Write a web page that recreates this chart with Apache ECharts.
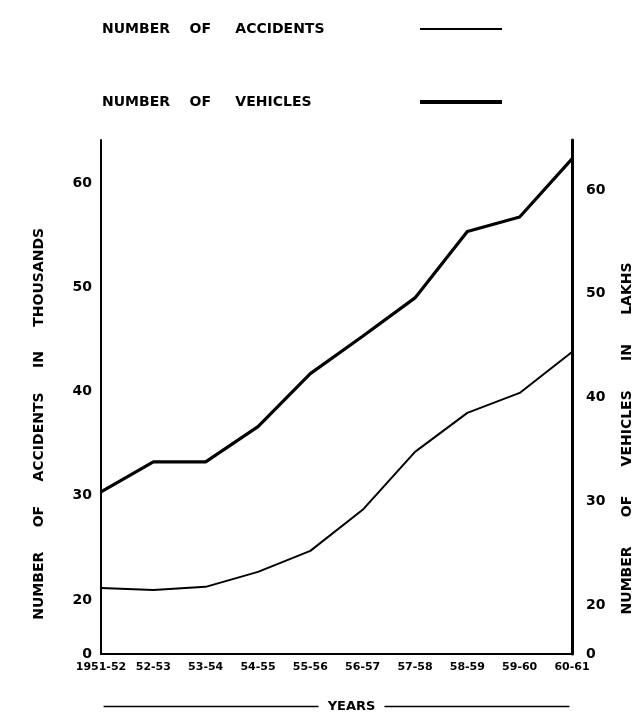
<!DOCTYPE html>
<html>
<head>
<meta charset="utf-8">
<script src="https://cdn.jsdelivr.net/npm/echarts@6/dist/echarts.min.js"></script>
<style>
html,body{margin:0;padding:0;background:#fff;}
#chart{width:642px;height:721px;}
</style>
</head>
<body>
<div id="chart"></div>
<script>
var years = ['1951-52','52-53','53-54','54-55','55-56','56-57','57-58','58-59','59-60','60-61'];
var accidents = [21.15, 20.96, 21.25, 22.69, 24.71, 28.65, 34.22, 37.96, 39.88, 43.82]; // thousands (left axis)
var vehicles = [30.9, 33.8, 33.8, 37.2, 42.3, 45.9, 49.6, 56.0, 57.4, 63.0];            // lakhs (right axis)
var tickValues = [20, 30, 40, 50, 60];

var FONT = 'DejaVu Sans';
var leftMin = 14.8, leftMax = 64.18;
var rightMin = 15.28, rightMax = 64.82;

var chart = echarts.init(document.getElementById('chart'), null, {renderer: 'canvas'});

function legendCfg(name, label, top, h) {
  return {
    show: true,
    data: [{name: name, icon: 'rect'}],
    left: 97,
    top: top,
    align: 'right',
    itemWidth: 82,
    itemHeight: h,
    selectedMode: false,
    formatter: function () { return '{a|' + label + '}'; },
    textStyle: {
      rich: {a: {width: 313, align: 'left', fontFamily: FONT, fontWeight: 'bold', fontSize: 14, color: '#000'}}
    }
  };
}

var option = {
  backgroundColor: '#fff',
  animation: false,
  legend: [
    legendCfg('NUMBER OF ACCIDENTS', 'NUMBER    OF     ACCIDENTS', 17, 2),
    legendCfg('NUMBER OF VEHICLES', 'NUMBER    OF     VEHICLES', 90, 4)
  ],
  grid: {left: 101, right: 70, top: 140, bottom: 67, containLabel: false},
  xAxis: {
    type: 'category',
    data: years,
    boundaryGap: false,
    axisLine: {lineStyle: {color: '#000', width: 2}},
    axisTick: {show: false},
    axisLabel: {color: '#000', fontFamily: FONT, fontWeight: 'bold', fontSize: 11, margin: 8, interval: 0},
    splitLine: {show: false},
    name: '{l|}  YEARS  {r|}',
    nameLocation: 'middle',
    nameGap: 46,
    nameTextStyle: {
      color: '#000', fontFamily: FONT, fontWeight: 'bold', fontSize: 13,
      rich: {
        l: {width: 215, height: 1.5, backgroundColor: '#000'},
        r: {width: 185, height: 1.5, backgroundColor: '#000'}
      }
    }
  },
  yAxis: [
    {
      type: 'value',
      position: 'left',
      min: leftMin,
      max: leftMax,
      axisLine: {show: true, lineStyle: {color: '#000', width: 2}},
      axisTick: {show: false},
      splitLine: {show: false},
      axisLabel: {
        color: '#000', fontFamily: FONT, fontWeight: 'bold', fontSize: 14, margin: 9,
        customValues: [leftMin].concat(tickValues),
        formatter: function (v) { return v < 19 ? '0' : String(Math.round(v)); }
      },
      name: 'NUMBER     OF     ACCIDENTS     IN     THOUSANDS           ',
      nameLocation: 'middle',
      nameRotate: 90,
      nameGap: 55,
      nameTextStyle: {color: '#000', fontFamily: FONT, fontWeight: 'bold', fontSize: 14}
    },
    {
      type: 'value',
      position: 'right',
      min: rightMin,
      max: rightMax,
      axisLine: {show: true, lineStyle: {color: '#000', width: 3}},
      axisTick: {show: false},
      splitLine: {show: false},
      axisLabel: {
        color: '#000', fontFamily: FONT, fontWeight: 'bold', fontSize: 14, margin: 14,
        customValues: [rightMin].concat(tickValues),
        formatter: function (v) { return v < 19 ? '0' : String(Math.round(v)); }
      },
      name: 'NUMBER      OF      VEHICLES      IN      LAKHS                 ',
      nameLocation: 'middle',
      nameRotate: 90,
      nameGap: 48,
      nameTextStyle: {color: '#000', fontFamily: FONT, fontWeight: 'bold', fontSize: 14}
    }
  ],
  series: [
    {
      name: 'NUMBER OF ACCIDENTS',
      type: 'line',
      yAxisIndex: 0,
      data: accidents,
      symbol: 'none',
      lineStyle: {color: '#000', width: 2},
      itemStyle: {color: '#000'}
    },
    {
      name: 'NUMBER OF VEHICLES',
      type: 'line',
      yAxisIndex: 1,
      data: vehicles,
      symbol: 'none',
      lineStyle: {color: '#000', width: 3.2},
      itemStyle: {color: '#000'}
    }
  ]
};
chart.setOption(option);
</script>
</body>
</html>
